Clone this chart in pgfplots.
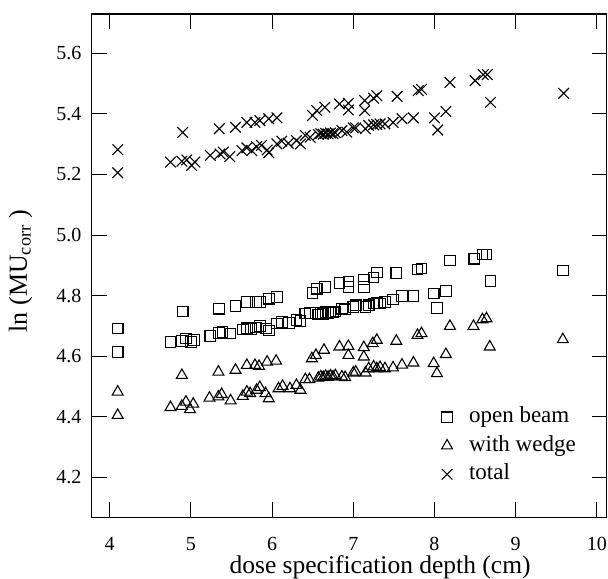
\documentclass[border=0pt]{standalone}
\usepackage{pgfplots}
\pgfplotsset{compat=1.18}
\usepackage{fontspec}
\setmainfont{Liberation Serif}
\pgfplotstableread{
x y
4.10 4.691
4.10 4.614
4.90 4.748
5.35 4.757
5.55 4.766
5.69 4.779
5.80 4.779
5.85 4.779
5.96 4.790
6.06 4.795
6.50 4.809
6.55 4.823
6.65 4.828
6.83 4.842
6.94 4.847
6.94 4.828
7.13 4.853
7.13 4.828
7.25 4.860
7.29 4.876
7.53 4.875
7.79 4.886
7.84 4.890
8.19 4.916
8.49 4.922
8.59 4.936
8.64 4.936
8.69 4.849
9.58 4.883
4.75 4.647
4.89 4.650
4.94 4.658
5.00 4.647
5.04 4.653
5.24 4.667
5.35 4.677
5.39 4.680
5.49 4.675
5.64 4.688
5.69 4.692
5.74 4.690
5.80 4.695
5.85 4.699
5.93 4.691
5.96 4.685
6.06 4.708
6.12 4.713
6.21 4.710
6.30 4.719
6.35 4.716
6.41 4.741
6.47 4.743
6.57 4.738
6.60 4.743
6.63 4.740
6.66 4.745
6.69 4.742
6.72 4.746
6.75 4.744
6.78 4.748
6.86 4.757
6.90 4.755
7.00 4.763
7.03 4.768
7.15 4.763
7.19 4.768
7.25 4.774
7.29 4.776
7.33 4.774
7.39 4.779
7.49 4.787
7.60 4.798
7.74 4.798
7.99 4.807
8.03 4.759
8.14 4.815
}\openbeam
\pgfplotstableread{
x y
4.10 4.482
4.10 4.405
4.89 4.537
5.34 4.548
5.55 4.554
5.69 4.570
5.79 4.570
5.84 4.567
5.94 4.581
6.05 4.584
6.49 4.592
6.54 4.603
6.64 4.620
6.83 4.631
6.94 4.633
6.94 4.603
7.13 4.629
7.13 4.598
7.24 4.642
7.29 4.653
7.53 4.650
7.79 4.669
7.84 4.675
8.19 4.699
8.48 4.699
8.59 4.721
8.64 4.724
8.68 4.631
9.58 4.655
4.75 4.431
4.89 4.435
4.94 4.449
4.99 4.424
5.03 4.442
5.23 4.462
5.34 4.466
5.38 4.474
5.49 4.453
5.64 4.468
5.69 4.482
5.73 4.477
5.81 4.488
5.85 4.497
5.92 4.477
5.96 4.460
6.08 4.493
6.13 4.501
6.22 4.493
6.30 4.504
6.35 4.488
6.41 4.523
6.46 4.523
6.57 4.528
6.60 4.532
6.63 4.530
6.66 4.534
6.69 4.531
6.72 4.535
6.75 4.532
6.78 4.536
6.86 4.532
6.90 4.530
7.00 4.545
7.03 4.548
7.15 4.545
7.19 4.559
7.25 4.565
7.29 4.559
7.33 4.563
7.39 4.559
7.49 4.562
7.60 4.571
7.74 4.578
7.99 4.576
8.03 4.543
8.14 4.606
}\wedge
\pgfplotstableread{
x y
4.10 5.282
4.10 5.206
4.90 5.339
5.35 5.351
5.55 5.356
5.69 5.372
5.79 5.372
5.85 5.378
5.96 5.384
6.06 5.387
6.50 5.395
6.55 5.411
6.65 5.422
6.83 5.433
6.94 5.435
6.94 5.413
7.14 5.444
7.14 5.411
7.25 5.452
7.29 5.460
7.54 5.458
7.80 5.477
7.84 5.481
8.19 5.504
8.50 5.510
8.60 5.530
8.65 5.530
8.69 5.438
9.59 5.468
4.75 5.241
4.89 5.244
4.95 5.248
5.01 5.230
5.05 5.241
5.24 5.263
5.36 5.268
5.40 5.274
5.48 5.259
5.63 5.279
5.69 5.288
5.75 5.279
5.81 5.292
5.87 5.296
5.94 5.281
5.96 5.272
6.06 5.301
6.12 5.310
6.20 5.303
6.30 5.312
6.35 5.301
6.41 5.329
6.47 5.323
6.57 5.332
6.60 5.335
6.63 5.333
6.66 5.336
6.69 5.334
6.72 5.337
6.75 5.335
6.78 5.338
6.86 5.345
6.92 5.340
7.00 5.354
7.03 5.354
7.15 5.351
7.19 5.362
7.25 5.364
7.29 5.365
7.33 5.367
7.39 5.367
7.49 5.372
7.60 5.384
7.74 5.387
8.00 5.387
8.04 5.347
8.14 5.408
}\total
\begin{document}
\begin{tikzpicture}
\begin{axis}[
  name=ax,
  scale only axis,
  width=515bp, height=503.3bp,
  xmin=3.78, xmax=10.12, ymin=4.068, ymax=5.73,
  xtick={4,5,6,7,8,9,10},
  xticklabels={4,5,6,7,8,9,10},
  ytick={4.2,4.4,4.6,4.8,5.0,5.2,5.4,5.6},
  yticklabels={4.2,4.4,4.6,4.8,5.0,5.2,5.4,5.6},
  tick align=inside,
  major tick length=15bp,
  xtick pos=both, ytick pos=both,
  xticklabel pos=bottom, yticklabel pos=left,
  axis line style={line width=1.2bp},
  every tick/.style={black, line width=1bp},
  xticklabel style={font=\fontsize{20bp}{24bp}\selectfont, anchor=base, inner sep=0pt, yshift=-32.7bp},
  yticklabel style={font=\fontsize{20bp}{24bp}\selectfont, anchor=east, inner sep=0pt, xshift=-10bp},
  every axis x label/.style={at={(axis description cs:0.56,0)}, anchor=base, inner sep=0pt, yshift=-55.7bp, font=\fontsize{25.5bp}{30bp}\selectfont},
  every axis y label/.style={at={(axis description cs:-0.138,0.489)}, anchor=center, rotate=90, font=\fontsize{26bp}{30bp}\selectfont},
  xlabel={dose specification depth (cm)},
  ylabel={ln (MU\textsubscript{corr}\ )},
  legend style={at={(axis description cs:0.678,0.22)}, anchor=north west, draw=none, fill=none,
    font=\fontsize{23bp}{27bp}\selectfont, row sep=7.5bp, inner sep=0pt,
    nodes={inner sep=0pt, text height=16bp, text depth=5bp}},
  legend cell align=left,
  legend image code/.code={\path[draw=none,fill=none] (-6bp,0bp) -- (22bp,0bp); \draw[#1] plot coordinates {(0bp,0bp)};},
]
\addplot[only marks, black, mark=square, mark size=5.3bp, mark options={line width=1.1bp}] table {\openbeam};
\addlegendentry{open beam}
\addplot[only marks, black, mark=triangle, mark size=6.3bp, mark options={line width=1.1bp}] table {\wedge};
\addlegendentry{with wedge}
\addplot[only marks, black, mark=x, mark size=7.5bp, mark options={line width=1.1bp}] table {\total};
\addlegendentry{total}
\end{axis}
\path (ax.south west) ++(-91.7bp,-59.7bp) rectangle ++(608bp,577bp);
\end{tikzpicture}
\end{document}
